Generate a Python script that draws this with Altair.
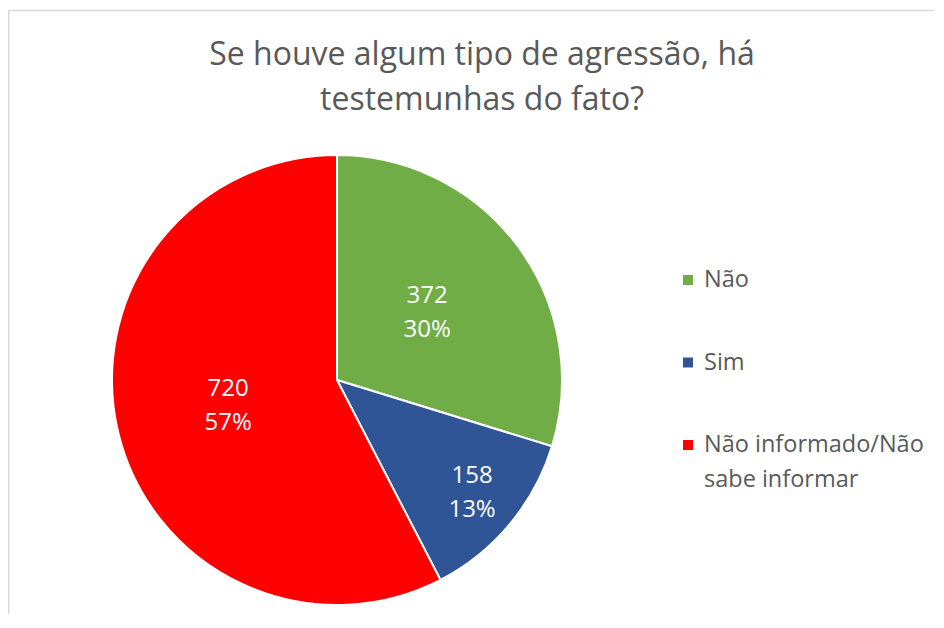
import altair as alt
import pandas as pd

categories = ["Não", "Sim", "Não informado/Não sabe informar"]
values = [372, 158, 720]
percents = ["30%", "13%", "57%"]
legend_lines = ["Não", "Sim", "Não informado/Não\nsabe informar"]
colors = ["#70AD47", "#2F5597", "#FF0000"]
title_text = "Se houve algum tipo de agressão, há\ntestemunhas do fato?"

df = pd.DataFrame({
    "cat": categories,
    "value": values,
    "pct": percents,
    "leg": legend_lines,
    "order": list(range(len(categories))),
})
df["label"] = [f"{v}\n{p}" for v, p in zip(values, percents)]

FONT = "Open Sans"
color_scale = alt.Scale(domain=categories, range=colors)
total = sum(values)

base = alt.Chart(df)

pie = base.mark_arc(outerRadius=225, stroke="white", strokeWidth=2).encode(
    theta=alt.Theta("value:Q", stack=True),
    color=alt.Color("cat:N", scale=color_scale, legend=None),
    order=alt.Order("order:Q"),
    x=alt.value(329),
    y=alt.value(372),
)

labels = base.transform_window(
    cum="sum(value)", sort=[alt.SortField("order")]
).transform_calculate(
    mid="datum.cum - datum.value / 2",
    lr=f"datum.value / {total} < 0.2 ? 176 : 112",
).mark_text(
    font=FONT, fontSize=24, color="white", lineBreak="\n",
    lineHeight=34, align="center", baseline="middle", dy=-17,
).encode(
    theta=alt.Theta("mid:Q", stack=None),
    radius=alt.Radius("lr:Q", scale=None),
    text="label:N",
    x=alt.value(329),
    y=alt.value(372),
)

leg_y = alt.Y("order:Q", scale=alt.Scale(domain=[0, 2], range=[272, 437]), axis=None)

leg_sq = base.mark_square(size=100, opacity=1).encode(
    x=alt.value(680),
    y=leg_y,
    color=alt.Color("cat:N", scale=color_scale, legend=None),
)

leg_txt = base.mark_text(
    align="left", baseline="middle", font=FONT, fontSize=23.5,
    color="#595959", lineBreak="\n", lineHeight=35,
).encode(
    x=alt.value(696),
    y=leg_y,
    text="leg:N",
)

title = alt.Chart(pd.DataFrame({"t": [title_text]})).mark_text(
    font=FONT, fontSize=32, color="#595959", lineBreak="\n", lineHeight=45,
    align="center", baseline="middle",
).encode(text="t:N", x=alt.value(474), y=alt.value(47))

border_top = alt.Chart(pd.DataFrame({"a": [0]})).mark_rule(color="#d9d9d9", strokeWidth=1.5).encode(
    x=alt.value(0), x2=alt.value(930), y=alt.value(2.5)
)
border_left = alt.Chart(pd.DataFrame({"a": [0]})).mark_rule(color="#d9d9d9", strokeWidth=1.5).encode(
    x=alt.value(0.75), y=alt.value(2), y2=alt.value(620)
)

chart = alt.layer(border_top, border_left, pie, labels, leg_sq, leg_txt, title).properties(
    width=926, height=606, padding=0, autosize=alt.AutoSizeParams(type="none")
).configure_view(stroke=None)

chart.save("out.html", embed_options={"renderer": "svg", "actions": False})
